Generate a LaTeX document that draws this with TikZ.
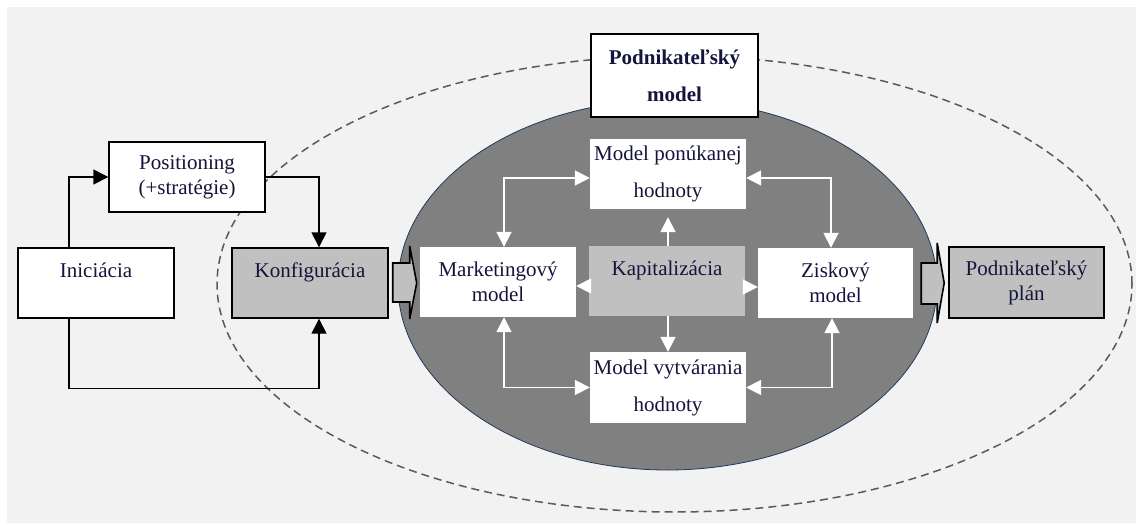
\documentclass[tikz,border=0pt]{standalone}
\usepackage{fontspec}
\setmainfont{Liberation Serif}
\usetikzlibrary{arrows.meta}
\definecolor{bgc}{HTML}{F2F2F2}
\definecolor{txt}{HTML}{14143C}
\definecolor{lgray}{HTML}{C0C0C0}
\definecolor{dgray}{HTML}{808080}
\definecolor{edgec}{HTML}{1F3A5F}
\definecolor{dashc}{HTML}{5A5A5A}
\begin{document}
\begin{tikzpicture}[x=1pt,y=-1pt,
  box/.style={draw=black,line width=1.4pt,minimum width=156pt,minimum height=70pt,inner sep=0pt,align=center,text=txt,font=\fontsize{21}{25}\selectfont},
  graybox/.style={box,fill=lgray},
  whitebox/.style={box,fill=white},
  inbox/.style={draw=none,fill=white,minimum width=156pt,minimum height=70pt,inner sep=0pt,align=center,text=txt,font=\fontsize{21}{25}\selectfont},
  widespace/.style={font=\fontsize{21}{37}\selectfont},
  blackarr/.style={line width=1.4pt,-{Triangle[width=15pt,length=15pt]}},
  whitearr/.style={draw=white,line width=1.8pt,{Triangle[width=15pt,length=15pt]}-{Triangle[width=15pt,length=15pt]}},
  whiteone/.style={draw=white,line width=1.8pt,-{Triangle[width=15pt,length=15pt]}},
  blockarrow/.style={draw=black,fill=lgray,line width=1.6pt,line join=miter}
]
\useasboundingbox (0,0) rectangle (1138,525);
\fill[white] (0,0) rectangle (1138,525);
\fill[bgc] (7,7) rectangle (1136,523);

% ellipses
\draw[dashc,line width=1.5pt,dash pattern=on 8pt off 5pt] (674.5,284) ellipse [x radius=457.5pt,y radius=228pt];
\draw[edgec,fill=dgray,line width=0.8pt] (667.5,285) ellipse [x radius=269.5pt,y radius=185pt];

% left part
\node[whitebox] (ini) at (96,283) {Iniciácia\\\mbox{}};
\node[whitebox] (pos) at (187,177) {Positioning\\(+stratégie)};
\node[graybox] (konf) at (310,283) {Konfigurácia\\\mbox{}};

\draw[blackarr] ([xshift=-27pt]ini.north) |- (pos.west);
\draw[blackarr] (pos.east) -| ([xshift=9pt]konf.north);
\draw[blackarr] ([xshift=-27pt]ini.south) -- ++(0,70) -| ([xshift=9pt]konf.south);

% top box
\node[whitebox,line width=2pt,minimum width=167pt,minimum height=83pt,font=\bfseries\fontsize{21}{37}\selectfont] (pm) at (674.5,75.5) {Podnikateľský\\model};

% inner boxes
\node[inbox,widespace] (mp) at (668,174) {Model ponúkanej\\hodnoty};
\node[inbox] (mk) at (498,282) {Marketingový\\model};
\node[inbox,fill=lgray] (kap) at (667,281) {Kapitalizácia\\\mbox{}};
\node[inbox,minimum width=155pt] (zisk) at (835.5,283) {Ziskový\\model};
\node[inbox,widespace,minimum height=71pt] (mv) at (668,387.5) {Model vytvárania\\hodnoty};

% right box
\node[graybox,minimum width=155pt,minimum height=71pt] (plan) at (1026.5,282.5) {Podnikateľský\\plán};

% white arrows
\draw[whitearr] ([yshift=-4pt]mp.west) -| ([xshift=6pt]mk.north);
\draw[whitearr] (mv.west) -| ([xshift=6pt]mk.south);
\draw[whitearr] ([yshift=-4pt]mp.east) -| ([xshift=-4.5pt]zisk.north);
\draw[whitearr] (mv.east) -| ([xshift=-3.5pt]zisk.south);
\draw[whiteone,shorten >=8pt] ([xshift=1pt]kap.north) -- ([xshift=1pt]kap.north |- mp.south);
\draw[whiteone] ([xshift=1pt]kap.south) -- ([xshift=1pt]kap.south |- mv.north);
\draw[whiteone] ([yshift=-5pt]kap.west) -- ([yshift=-5pt]kap.west -| mk.east);
\draw[whiteone] ([yshift=-6pt]kap.east) -- ([yshift=-6pt]kap.east -| zisk.west);

% block arrows
\begin{scope}[shift={(konf.east)}]
\draw[blockarrow] (4,-20) -- (21,-20) -- (21,-37) -- (28,0) -- (21,36) -- (21,19) -- (4,19) -- cycle;
\end{scope}
\begin{scope}[shift={(zisk.east)}]
\draw[blockarrow] (8,-20) -- (24,-20) -- (24,-40) -- (31,0) -- (24,40) -- (24,21) -- (8,21) -- cycle;
\end{scope}
\end{tikzpicture}
\end{document}
